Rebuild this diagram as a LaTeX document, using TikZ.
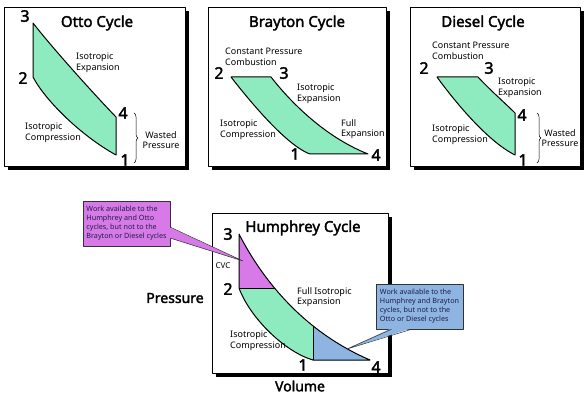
\documentclass[tikz,border=0pt]{standalone}
\usepackage{fontspec}
\setmainfont{Noto Sans}[AutoFakeBold=2.2]
\usetikzlibrary{decorations.pathreplacing,calc}
\definecolor{workgreen}{RGB}{142,235,192}
\definecolor{cvcpurple}{RGB}{215,122,232}
\definecolor{fullblue}{RGB}{142,180,226}
\definecolor{calltext}{RGB}{30,30,70}
\begin{document}
\begin{tikzpicture}[x=1pt,y=-1pt,line join=round,
	panel/.style={draw,fill=white,line width=.9pt},
	shadow/.style={fill=black},
	lbl/.style={font=\fontsize{9}{10.5}\selectfont,align=left,inner sep=0pt},
	num/.style={font=\fontsize{16}{16}\selectfont\bfseries,inner sep=0pt},
	ttl/.style={font=\fontsize{15}{15}\selectfont\bfseries,inner sep=0pt},
	axis/.style={font=\fontsize{14}{14}\selectfont\bfseries,inner sep=0pt},
	curve/.style={draw,line width=1pt},
	wbrace/.style={decorate,decoration={brace,amplitude=4pt},line width=.5pt},
	callout/.style={draw=black!80,line width=.5pt,text=calltext,font=\fontsize{7.2}{9}\selectfont,
		align=left,minimum width=87pt,minimum height=45pt,inner sep=1.5pt}]
	\useasboundingbox (0,0) rectangle (586,395);
	
	% Otto
	\fill[shadow] (8,11) rectangle (189,170);
	\draw[panel] (4,7) rectangle (185,166);
	\coordinate (o3) at (33,23); \coordinate (o2) at (33,77);
	\coordinate (o4) at (116,117); \coordinate (o1) at (116,155);
	\filldraw[curve,fill=workgreen] (o3) .. controls (50,45) and (90,90) .. (o4) -- (o1)
		.. controls (80,135) and (45,100) .. (o2) -- cycle;
	\node[ttl] (ottoT) at (97,23) {Otto Cycle};
	\node[num] (n3o) at (25,16) {3};
	\node[num] (n2o) at (23,78) {2};
	\node[num] (n4o) at (123,113) {4};
	\node[num] (n1o) at (125,160) {1};
	\node[lbl,anchor=west] (expO) at (76,63) {Isotropic\\Expansion};
	\node[lbl,anchor=west] (cmpO) at (25,133) {Isotropic\\Compression};
	\draw[wbrace] (134,113) -- (134,163);
	\node[lbl,align=center] (wasteO) at (161,140) {Wasted\\Pressure};
	
	% Brayton
	\fill[shadow] (212,11) rectangle (390,170);
	\draw[panel] (208,7) rectangle (386,166);
	\coordinate (b2) at (231,77); \coordinate (b3) at (271,77);
	\coordinate (b4) at (368,154); \coordinate (b1) at (310,154);
	\filldraw[curve,fill=workgreen] (b2) -- (b3) .. controls (285,95) and (320,135) .. (b4) -- (b1)
		.. controls (285,145) and (245,95) .. (b2) -- cycle;
	\node[ttl] (braytonT) at (297,23) {Brayton Cycle};
	\node[lbl,anchor=west] (combB) at (225,57) {Constant Pressure\\Combustion};
	\node[num] (n2b) at (219,73) {2};
	\node[num] (n3b) at (284,73) {3};
	\node[num] (n1b) at (295,154) {1};
	\node[num] (n4b) at (376,155) {4};
	\node[lbl,anchor=west] (expB) at (297,94) {Isotropic\\Expansion};
	\node[lbl,anchor=west] (cmpB) at (220,130) {Isotropic\\Compression};
	\node[lbl,anchor=west] (fullB) at (341,129) {Full\\Expansion};
	
	% Diesel
	\fill[shadow] (414,11) rectangle (584,170);
	\draw[panel] (410,7) rectangle (580,166);
	\coordinate (d2) at (437,77); \coordinate (d3) at (478,77);
	\coordinate (d4) at (515,113); \coordinate (d1) at (515,155);
	\filldraw[curve,fill=workgreen] (d2) -- (d3) .. controls (490,90) and (505,103) .. (d4) -- (d1)
		.. controls (485,140) and (450,95) .. (d2) -- cycle;
	\node[ttl] (dieselT) at (483,23) {Diesel Cycle};
	\node[lbl,anchor=west] (combD) at (432,51) {Constant Pressure\\Combustion};
	\node[num] (n2d) at (424,68) {2};
	\node[num] (n3d) at (489,68) {3};
	\node[num] (n4d) at (522,115) {4};
	\node[num] (n1d) at (523,160) {1};
	\node[lbl,anchor=west] (expD) at (498,88) {Isotropic\\Expansion};
	\node[lbl,anchor=west] (cmpD) at (432,135) {Isotropic\\Compression};
	\draw[wbrace] (537,113) -- (537,163);
	\node[lbl,align=center] (wasteD) at (560,138) {Wasted\\Pressure};
	
	% Humphrey
	\fill[shadow] (216,217) rectangle (392,377);
	\draw[panel] (212,213) rectangle (388,373);
	\coordinate (h3) at (239,234); \coordinate (h2) at (239,288);
	\coordinate (h1) at (313,360); \coordinate (h4) at (370,360);
	\def\hcycle{(h3) .. controls (260,275) and (300,330) .. (h4) -- (h1) .. controls (285,352) and (250,318) .. (h2) -- cycle}
	\fill[workgreen] \hcycle;
	\begin{scope}
		\clip \hcycle;
		\fill[cvcpurple] (200,200) rectangle (400,288);
		\fill[fullblue] (313,200) rectangle (400,400);
		\draw[line width=1pt] (h2) -- +(120,0);
		\draw[line width=1pt] (h1) -- +(0,-120);
	\end{scope}
	\draw[curve] \hcycle;
	\node[ttl] (humphreyT) at (303,228) {Humphrey Cycle};
	\node[num] (n3h) at (228,234) {3};
	\node[num] (n2h) at (228,289) {2};
	\node[num] (n1h) at (303,365) {1};
	\node[num] (n4h) at (376,367) {4};
	\node[lbl,font=\fontsize{8}{9}\selectfont] (cvc) at (223,266) {CVC};
	\node[lbl,anchor=west] (expH) at (297,297) {Full Isotropic\\Expansion};
	\node[lbl,anchor=west] (cmpH) at (230,341) {Isotropic\\Compression};
	\node[axis] (pressure) at (175,298) {Pressure};
	\node[axis] (volume) at (300,386) {Volume};
	
	% callouts
	\coordinate (tipP) at (243,261);
	\coordinate (tipB) at (347,349);
	\node[callout,fill=cvcpurple] (callP) at (126.5,223.5) {Work available to the\\Humphrey and Otto\\cycles, but not to the\\Brayton or Diesel cycles};
	\coordinate (pa) at ($(callP.north east)!.58!(callP.south east)$);
	\coordinate (pb) at ($(callP.north east)!.82!(callP.south east)$);
	\fill[cvcpurple] ($(pa)+(-1,0)$) -- (tipP) -- ($(pb)+(-1,0)$) -- cycle;
	\draw[black!80,line width=.5pt] (pa) -- (tipP) -- (pb);
	\node[callout,fill=fullblue] (callB) at (419.5,306.5) {Work available to the\\Humphrey and Brayton\\cycles, but not to the\\Otto or Diesel cycles};
	\coordinate (qa) at ($(callB.south west)!.18!(callB.south east)$);
	\coordinate (qb) at ($(callB.south west)!.41!(callB.south east)$);
	\fill[fullblue] ($(qa)+(0,-1)$) -- (tipB) -- ($(qb)+(0,-1)$) -- cycle;
	\draw[black!80,line width=.5pt] (qa) -- (tipB) -- (qb);
\end{tikzpicture}
\end{document}
